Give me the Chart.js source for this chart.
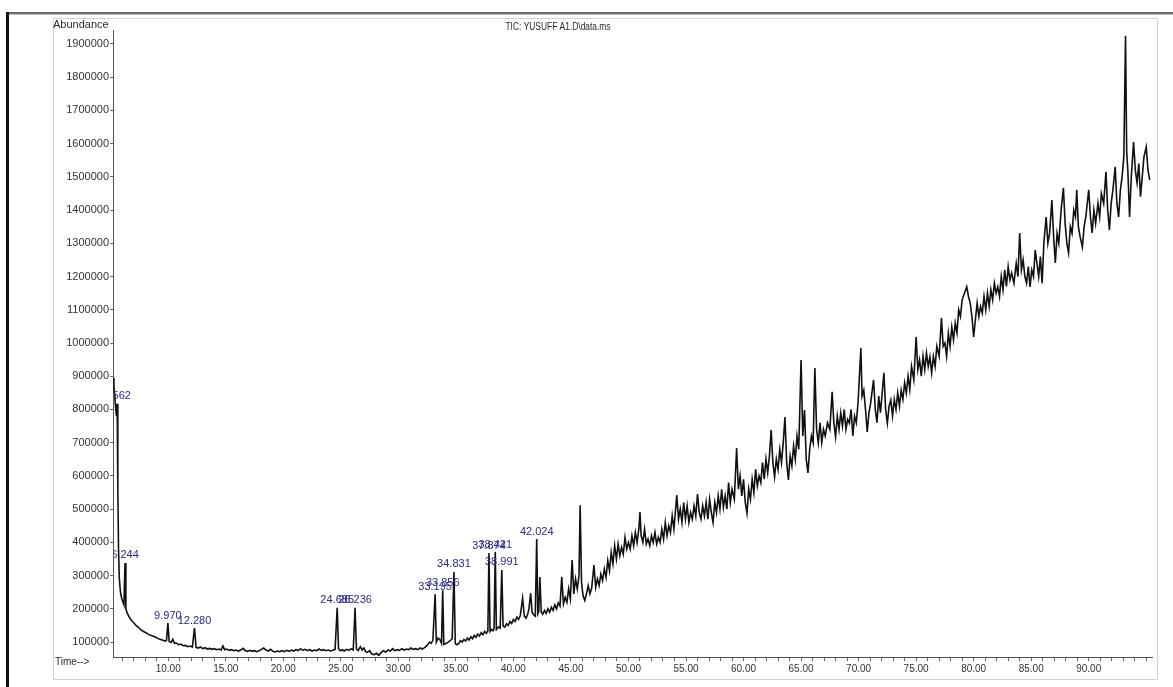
<!DOCTYPE html>
<html><head><meta charset="utf-8">
<script src="https://cdn.jsdelivr.net/npm/chart.js@4.4.1/dist/chart.umd.min.js"></script>
<style>html,body{margin:0;padding:0;background:#fff;}canvas{display:block;}</style>
</head><body>
<canvas id="c" width="1173" height="687"></canvas>
<script>
// ---- DATA (time in min, abundance in thousands) ----
const chartTitle = "TIC: YUSUFF A1.D\\data.ms";
const yAxisTitle = "Abundance";
const xAxisTitle = "Time-->";
const yTickValues = [100000,200000,300000,400000,500000,600000,700000,800000,900000,1000000,1100000,1200000,1300000,1400000,1500000,1600000,1700000,1800000,1900000];
const xTickLabels = ["10.00","15.00","20.00","25.00","30.00","35.00","40.00","45.00","50.00","55.00","60.00","65.00","70.00","75.00","80.00","85.00","90.00"];

const segA = [[5.2,895],[5.28,870],[5.36,840],[5.44,800],[5.5,780],[5.562,817],[5.62,560],[5.68,380],[5.75,290],[5.85,250],[5.95,232],[6.05,222],[6.15,212],[6.244,338],[6.32,200],[6.45,186],[6.6,176],[6.78,166],[7.0,158],[7.2,150],[7.45,143],[7.65,136],[7.9,131],[8.15,126],[8.4,121],[8.65,118],[8.87,115],[9.1,111],[9.3,108],[9.5,106],[9.7,103],[9.85,105],[9.97,157],[10.08,102],[10.25,99],[10.4,108],[10.55,96],[10.7,97],[10.9,92],[11.1,94],[11.3,89],[11.5,90],[11.7,86],[11.9,88],[12.1,85],[12.28,142],[12.42,84],[12.6,82],[12.8,85],[13.0,80],[13.2,83],[13.4,79],[13.6,81],[13.8,78],[14.0,80],[14.2,77],[14.4,79],[14.6,76],[14.75,88],[14.9,77]];

const segB = [[15.1,79],[15.3,75],[15.5,77],[15.7,74],[15.9,76],[16.1,73],[16.3,76],[16.5,81],[16.7,74],[16.9,72],[17.1,75],[17.3,72],[17.5,74],[17.7,71],[17.9,74],[18.1,78],[18.3,82],[18.5,76],[18.7,73],[18.9,78],[19.1,72],[19.3,70],[19.5,73],[19.7,71],[19.9,74],[20.1,71],[20.3,75],[20.5,72],[20.7,76],[20.9,73],[21.1,77],[21.3,74],[21.5,80],[21.7,75],[21.9,78],[22.1,74],[22.3,77],[22.5,73],[22.7,76],[22.9,74],[23.1,79],[23.3,75],[23.5,77],[23.7,74],[23.9,76],[24.1,73],[24.3,75],[24.5,78],[24.685,203],[24.8,80],[24.95,74],[25.1,77],[25.3,73],[25.5,78],[25.7,75],[25.9,80],[26.08,76],[26.236,203],[26.36,79],[26.5,74],[26.7,86],[26.85,76],[27.0,82],[27.15,72],[27.3,69],[27.5,74],[27.7,64],[27.9,62],[28.1,66],[28.3,60],[28.5,68],[28.7,74],[28.9,70],[29.1,76],[29.3,73],[29.5,80],[29.7,74],[29.9,77],[30.1,75],[30.3,80],[30.5,76],[30.7,79],[30.9,77],[31.1,82],[31.3,78],[31.5,80],[31.7,77],[31.9,82],[32.1,79],[32.3,84],[32.5,90],[32.7,100],[32.85,96],[33.0,105]];

const segC = [[33.195,244],[33.3,100],[33.45,112],[33.6,108],[33.75,96],[33.856,256],[33.95,93],[34.1,95],[34.3,99],[34.5,104],[34.68,110],[34.831,311],[34.95,95],[35.1,92],[35.25,96],[35.4,104],[35.55,100],[35.7,108],[35.85,103],[36.0,112],[36.15,106],[36.3,116],[36.45,110],[36.6,120],[36.75,114],[36.9,124],[37.05,118],[37.2,128],[37.35,122],[37.5,132],[37.65,126],[37.78,134],[37.874,368],[37.97,132],[38.1,138],[38.22,134],[38.32,140],[38.421,371],[38.52,138],[38.7,145],[38.85,142],[38.991,317],[39.1,148],[39.25,145],[39.4,155],[39.55,150],[39.7,162],[39.85,156],[40.0,168],[40.15,162],[40.3,175],[40.45,168],[40.6,180],[40.8,232],[40.95,178],[41.1,172],[41.25,185],[41.35,200],[41.5,247],[41.62,190],[41.75,182],[41.9,178],[42.024,410],[42.12,185],[42.2,192],[42.3,296],[42.42,190],[42.55,184],[42.7,195],[42.85,186],[43.0,200],[43.15,190],[43.3,205],[43.45,195],[43.6,212],[43.75,200],[43.9,218],[44.05,208],[44.2,296],[44.35,215],[44.5,235],[44.65,220],[44.8,260],[44.95,230],[45.1,347],[45.25,245],[45.4,290],[45.55,260],[45.7,300],[45.8,512],[45.92,280],[46.05,240],[46.2,225],[46.35,245],[46.5,270],[46.65,245],[46.8,262],[47.0,332],[47.15,265],[47.3,290],[47.45,270],[47.6,305],[47.75,285],[47.9,320],[48.05,295],[48.2,345],[48.35,315],[48.5,370],[48.65,335],[48.8,390],[48.95,350],[49.1,395],[49.25,360],[49.4,385],[49.55,365],[49.7,415],[49.85,380],[50.0,400]];

const segD = [[50.15,380],[50.3,420],[50.45,390],[50.6,430],[50.75,400],[50.9,440],[51.0,491],[51.1,420],[51.25,400],[51.4,440],[51.55,395],[51.7,410],[51.85,390],[52.0,420],[52.15,400],[52.3,430],[52.45,395],[52.6,415],[52.75,400],[52.9,440],[53.05,410],[53.2,460],[53.35,420],[53.5,450],[53.65,430],[53.8,480],[53.95,440],[54.2,542],[54.35,470],[54.5,500],[54.65,460],[54.8,520],[54.95,470],[55.1,510],[55.25,460],[55.4,490],[55.55,470],[55.7,510],[55.85,480],[56.0,545],[56.15,490],[56.3,470],[56.45,510],[56.6,480],[56.75,520],[56.9,470],[57.05,530],[57.2,490],[57.35,460],[57.5,520],[57.65,490],[57.8,540],[57.95,500],[58.1,560],[58.25,505],[58.4,540],[58.55,500],[58.7,580],[58.85,520],[59.0,560],[59.2,530],[59.4,684],[59.55,560],[59.7,600],[59.85,540],[60.0,590],[60.15,520],[60.3,488],[60.45,560],[60.6,530],[60.75,590],[60.9,550],[61.05,620],[61.2,570],[61.35,600],[61.5,580],[61.65,640],[61.8,590],[61.95,650],[62.1,610],[62.25,660],[62.4,738],[62.55,640],[62.7,597],[62.85,650],[63.0,620],[63.15,680],[63.3,640],[63.45,700],[63.6,777],[63.75,640],[63.9,588],[64.05,660],[64.2,630],[64.35,690],[64.5,650],[64.65,720],[64.8,680],[65.0,949],[65.15,720],[65.3,798],[65.45,650],[65.6,609],[65.75,680],[65.9,720],[66.05,700],[66.2,925],[66.35,740],[66.5,699],[66.65,760],[66.8,700],[66.95,740],[67.1,720],[67.3,760],[67.5,740],[67.7,853],[67.85,760],[68.0,717],[68.15,780],[68.3,740],[68.45,790],[68.6,750],[68.75,800],[68.9,740],[69.05,770],[69.2,759],[69.35,800],[69.5,720],[69.65,780],[69.8,760],[69.95,820]];

const segE = [[70.2,985],[70.3,840],[70.45,858],[70.6,800],[70.75,732],[70.9,790],[71.05,820],[71.3,889],[71.45,800],[71.6,760],[71.75,840],[71.9,790],[72.05,850],[72.2,910],[72.35,800],[72.5,759],[72.65,810],[72.8,828],[72.95,780],[73.1,830],[73.25,800],[73.4,850],[73.55,810],[73.7,858],[73.85,830],[74.0,880],[74.15,850],[74.3,900],[74.45,860],[74.6,930],[74.8,890],[75.0,1018],[75.15,920],[75.3,949],[75.45,900],[75.6,960],[75.75,920],[75.9,970],[76.05,930],[76.2,958],[76.35,910],[76.5,960],[76.65,930],[76.8,990],[77.0,960],[77.2,1075],[77.35,990],[77.5,1000],[77.65,960],[77.8,1030],[77.95,990],[78.1,1048],[78.25,1010],[78.4,1060],[78.55,1030],[78.7,1100],[78.85,1080],[79.0,1130],[79.2,1150],[79.4,1169],[79.55,1140],[79.7,1120],[79.85,1080],[80.0,1018],[80.15,1070],[80.3,1120],[80.45,1080],[80.6,1110],[80.75,1090],[80.9,1140],[81.05,1100],[81.2,1150],[81.35,1110],[81.5,1160],[81.65,1130],[81.8,1180],[81.95,1150],[82.1,1169],[82.25,1140],[82.4,1200],[82.55,1160],[82.7,1220],[82.85,1170],[83.0,1230],[83.15,1190],[83.3,1211],[83.5,1180],[83.7,1240],[83.85,1200],[84.0,1331],[84.15,1220],[84.3,1250],[84.45,1200],[84.6,1180],[84.75,1230],[84.9,1169],[85.05,1220],[85.2,1200],[85.35,1280],[85.5,1240],[85.65,1200],[85.8,1260],[85.95,1180],[86.1,1300],[86.3,1379],[86.45,1300],[86.6,1330],[86.8,1430],[86.95,1320],[87.1,1241],[87.25,1330],[87.4,1300],[87.6,1400],[87.8,1467],[87.95,1360],[88.1,1300],[88.25,1271],[88.4,1350],[88.55,1330],[88.7,1400],[88.85,1380],[88.96,1461],[89.1,1350],[89.25,1320],[89.45,1289],[89.6,1350],[89.75,1380],[90.0,1461],[90.15,1380],[90.3,1331],[90.45,1400],[90.6,1360],[90.8,1420],[90.95,1380],[91.1,1450],[91.3,1420],[91.5,1515],[91.65,1400],[91.8,1340],[91.95,1420],[92.1,1460],[92.3,1530],[92.45,1420],[92.6,1379],[92.75,1460],[92.9,1500],[93.05,1560],[93.2,1925],[93.3,1575],[93.4,1520],[93.55,1379],[93.7,1500],[93.9,1605],[94.05,1520],[94.2,1482],[94.35,1540],[94.5,1440],[94.65,1500],[94.8,1560],[95.0,1590],[95.15,1520],[95.3,1491]];

const peakTimes  = [5.562, 6.244, 9.97, 12.28, 24.685, 26.236, 33.195, 33.856, 34.831, 37.874, 38.421, 38.991, 42.024];
const peakLabels = ["5.562","6.244","9.970","12.280","24.685","26.236","33.195","33.856","34.831","37.874","38.421","38.991","42.024"];

// ---- BUILD ----
const trace = [segA, segB, segC, segD, segE].flat().map(([t, v]) => ({x: t, y: v * 1000}));
const FONT = "'Liberation Sans', Arial, sans-serif";

const frame = {
  id: 'frame',
  beforeDraw(chart) {
    const c = chart.ctx;
    c.save();
    c.fillStyle = '#fff';
    c.fillRect(0, 0, chart.width, chart.height);
    c.strokeStyle = '#cdd8cc';
    c.lineWidth = 1;
    c.strokeRect(53.5, 18.5, 1104, 661);
    c.fillStyle = '#6a6a6a';
    c.fillRect(7, 12, 1166, 2);
    c.fillStyle = '#c4c4c4';
    c.fillRect(7, 14, 1166, 1);
    c.fillStyle = '#111';
    c.fillRect(6, 12, 3, 675);
    c.restore();
  },
  afterDraw(chart) {
    const c = chart.ctx;
    c.save();
    c.fillStyle = '#2a2a2a';
    c.textBaseline = 'middle';
    c.font = '11px ' + FONT;
    c.textAlign = 'left';
    c.fillText(yAxisTitle, 53, 25);
    c.font = '10px ' + FONT;
    c.fillText(xAxisTitle, 55, 662);
    c.restore();
    c.save();
    c.fillStyle = '#2a2a2a';
    c.textBaseline = 'middle';
    c.textAlign = 'center';
    c.font = '10px ' + FONT;
    c.translate(558, 27);
    c.scale(0.84, 1);
    c.fillText(chartTitle, 0, 0);
    c.restore();
  },
  afterDatasetsDraw(chart) {
    const c = chart.ctx, a = chart.chartArea;
    const xs = chart.scales.x, ys = chart.scales.y;
    c.save();
    c.beginPath();
    c.rect(a.left + 1, a.top - 20, a.right - a.left, a.bottom - a.top + 20);
    c.clip();
    c.fillStyle = '#2a2a82';
    c.font = '11px ' + FONT;
    c.textAlign = 'center';
    c.textBaseline = 'bottom';
    peakTimes.forEach((t, i) => {
      const pt = trace.find(p => Math.abs(p.x - t) < 1e-6);
      const px = xs.getPixelForValue(t);
      const py = ys.getPixelForValue(pt ? pt.y : 0);
      c.fillText(peakLabels[i], px, py - 2);
    });
    c.restore();
  }
};

new Chart(document.getElementById('c'), {
  type: 'line',
  data: { datasets: [{ data: trace, borderColor: '#111', borderWidth: 1.6, pointRadius: 0, tension: 0, fill: false }] },
  options: {
    responsive: false, animation: false, devicePixelRatio: 1,
    layout: { padding: { top: 30, right: 21, left: 0, bottom: 0 } },
    plugins: { legend: { display: false }, tooltip: { enabled: false }, title: { display: false } },
    scales: {
      x: {
        type: 'linear', min: 5.2, max: 95.5,
        afterFit(s) { s.height = 30; },
        afterBuildTicks(s) {
          const t = [];
          for (let m = 6; m <= 95; m++) t.push({ value: m });
          s.ticks = t;
        },
        grid: { drawOnChartArea: false, drawTicks: true, tickLength: 4, color: '#666' },
        border: { display: true, color: '#555', width: 1 },
        ticks: {
          autoSkip: false, maxRotation: 0, padding: 2, color: '#333',
          font: { family: FONT, size: 10 },
          callback(v) { const s = Number(v).toFixed(2); return xTickLabels.includes(s) ? s : ''; }
        }
      },
      y: {
        type: 'linear', min: 55000, max: 1942000,
        afterFit(s) { s.width = 113; },
        afterBuildTicks(s) { s.ticks = yTickValues.map(v => ({ value: v })); },
        grid: { drawOnChartArea: false, drawTicks: true, tickLength: 3, color: '#666' },
        border: { display: true, color: '#555', width: 1 },
        ticks: { padding: 1, color: '#333', font: { family: FONT, size: 11 }, callback(v) { return String(v); } }
      }
    }
  },
  plugins: [frame]
});
</script>
</body></html>
